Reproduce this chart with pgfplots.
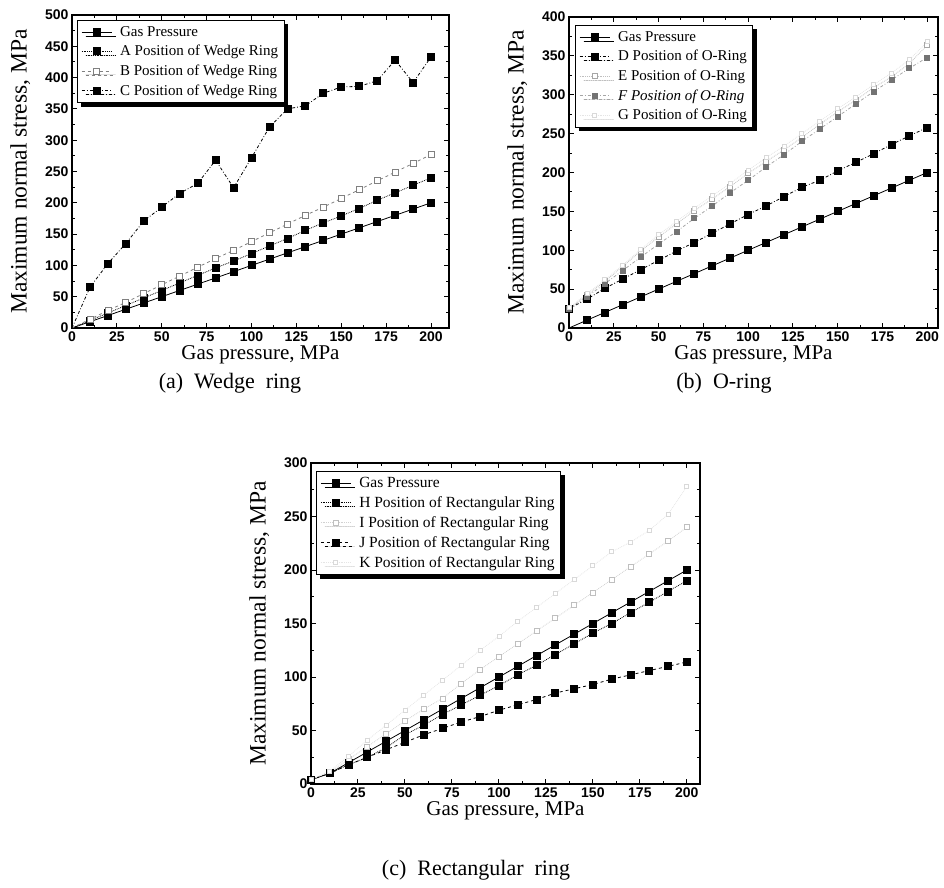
\documentclass[border=0pt]{standalone}
\usepackage{fontspec}
\setmainfont{Liberation Serif}
\newfontfamily\ticksans{Liberation Sans}
\usepackage{pgfplots}
\usepackage{pgfplotstable}
\pgfplotsset{compat=1.18}
\usetikzlibrary{shadows}

% wedge ring: x, gas, A, B, C
\pgfplotstableread{
x   gas  A    B    C
0   0    0    0    0
10  10   12   14   65
20  20   24   28   103
30  30   36   41   135
40  40   48   55   171
50  50   60   69   193
60  60   72   83   215
70  70   84   97   231
80  80   96   111  268
90  90   107  124  224
100 100  119  138  272
110 110  131  152  321
120 120  143  166  350
130 130  156  180  355
140 140  168  193  375
150 150  179  207  385
160 160  191  221  386
170 170  204  235  395
180 180  216  249  428
190 190  228  263  392
200 200  240  277  433
}\wedgedata

% O-ring: x, gas, D, E, F, G
\pgfplotstableread{
x   gas  D    E    F    G
0   0    25   25   25   26
10  10   37   42   40   44
20  20   51   60   57   62
30  30   63   79   74   81
40  40   75   99   91   101
50  50   87   117  108  120
60  60   99   134  124  137
70  70   110  151  141  154
80  80   122  166  157  170
90  90   134  182  174  186
100 100  146  199  190  203
110 110  157  214  207  219
120 120  169  229  223  234
130 130  181  245  240  250
140 140  190  262  256  266
150 150  202  278  272  282
160 160  213  293  288  297
170 170  224  309  304  313
180 180  236  323  319  328
190 190  247  340  334  345
200 200  258  364  348  368
}\oringdata

% rectangular ring: x, gas, H, I, J, K
\pgfplotstableread{
x   gas  H    I    J    K
0   4    4    4    4    4
10  10   10   11   10   12
20  20   18   23   18   26
30  30   25   35   25   41
40  40   34   47   32   55
50  50   46   59   39   69
60  60   55   70   46   83
70  70   65   80   52   97
80  80   74   94   58   111
90  90   83   107  63   125
100 100  92   119  69   138
110 110  102  131  74   152
120 120  111  143  79   165
130 130  121  155  85   178
140 140  131  167  89   191
150 150  141  179  93   204
160 160  150  191  98   217
170 170  160  203  102  226
180 180  170  215  106  237
190 190  180  227  110  252
200 200  190  240  114  278
}\rectdata

\pgfplotsset{
  ringaxis/.style={
    scale only axis,
    anchor=south west,
    xmin=0, xtick={0,25,...,200},
    ymin=0,
    minor x tick num=1, minor y tick num=1,
    axis line style={line width=1.6pt},
    major tick length=5pt, minor tick length=3pt,
    every tick/.style={line width=1pt,black},
    tick align=inside,
    ticklabel style={font=\ticksans\bfseries\fontsize{14}{14}\selectfont},
    /pgf/number format/assume math mode=true,
    xlabel style={font=\fontsize{21}{24}\selectfont, yshift=3pt},
    ylabel style={font=\fontsize{23.5}{26}\selectfont, yshift=8pt},
    xlabel={Gas pressure, MPa},
    ylabel={Maximum normal stress, MPa},
    legend style={font=\fontsize{15}{17}\selectfont, draw=black, line width=0.8pt,
      fill=white, drop shadow={shadow xshift=4pt, shadow yshift=-4pt, fill=black, opacity=1},
      anchor=north west, row sep=3.5pt, inner sep=4pt,
      /tikz/every odd column/.append style={column sep=6pt}},
    legend cell align=left,
    legend image code/.code={%
      \draw[##1, mark indices={2}] plot coordinates {(0pt,0pt) (15pt,0pt) (30pt,0pt)};},
    every axis plot/.append style={line width=0.8pt, mark=square*, mark size=3.5pt},
  },
  gasstyle/.style={black, solid, mark options={solid, fill=black}},
}

\begin{document}
\begin{tikzpicture}[x=1pt,y=1pt]
\useasboundingbox (0,0) rectangle (944,887);

% (a) wedge ring
\begin{axis}[ringaxis, at={(72pt,559pt)}, width=377, height=313,
  xmax=210, ymax=500, ytick={0,50,...,500},
  every axis plot/.append style={mark indices={2,...,21}},
  legend style={at={(0.013,0.984)}}]
  \addplot[gasstyle] table[x=x,y=gas] {\wedgedata};
  \addlegendentry{Gas Pressure}
  \addplot[black, densely dotted, mark options={solid, fill=black}] table[x=x,y=A] {\wedgedata};
  \addlegendentry{A Position of Wedge Ring}
  \addplot[gray, dashed, mark=square*, mark size=3pt, mark options={solid, draw=gray, fill=white}] table[x=x,y=B] {\wedgedata};
  \addlegendentry{B Position of Wedge Ring}
  \addplot[black, dash dot, mark options={solid, fill=black}] table[x=x,y=C] {\wedgedata};
  \addlegendentry{C Position of Wedge Ring}
\end{axis}

% (b) O-ring
\begin{axis}[ringaxis, at={(569pt,559pt)}, width=369, height=311,
  xmax=206, ymax=400, ytick={0,50,...,400},
  legend style={at={(0.016,0.974)}}]
  \addplot[gasstyle, mark indices={2,...,21}] table[x=x,y=gas] {\oringdata};
  \addlegendentry{Gas Pressure}
  \addplot[black, dash dot, mark options={solid, fill=black}] table[x=x,y=D] {\oringdata};
  \addlegendentry{D Position of O-Ring}
  \addplot[black!25, densely dotted, mark=square*, mark size=2.5pt, mark options={solid, draw=black!35, fill=white}] table[x=x,y=E] {\oringdata};
  \addlegendentry{E Position of O-Ring}
  \addplot[black!35, dash dot, mark size=2.5pt, mark options={solid, draw=black!55, fill=black!55}] table[x=x,y=F] {\oringdata};
  \addlegendentry{\textit{F Position of O-Ring}}
  \addplot[black!10, densely dotted, mark size=2pt, mark options={solid, draw=black!15, fill=white}] table[x=x,y=G] {\oringdata};
  \addlegendentry{G Position of O-Ring}
\end{axis}

% (c) rectangular ring
\begin{axis}[ringaxis, at={(311pt,103pt)}, width=389, height=321,
  xmax=207, ymax=300, ytick={0,50,...,300},
  legend style={at={(0.013,0.975)}, font=\fontsize{15.5}{17}\selectfont}]
  \addplot[gasstyle] table[x=x,y=gas] {\rectdata};
  \addlegendentry{Gas Pressure}
  \addplot[black, densely dotted, mark options={solid, fill=black}] table[x=x,y=H] {\rectdata};
  \addlegendentry{H Position of Rectangular Ring}
  \addplot[black!18, densely dotted, mark=square*, mark size=2.5pt, mark options={solid, draw=black!25, fill=white}] table[x=x,y=I] {\rectdata};
  \addlegendentry{I Position of Rectangular Ring}
  \addplot[black, dashed, mark options={solid, fill=black}] table[x=x,y=J] {\rectdata};
  \addlegendentry{J Position of Rectangular Ring}
  \addplot[black!10, densely dotted, mark size=2pt, mark options={solid, draw=black!15, fill=white}] table[x=x,y=K] {\rectdata};
  \addlegendentry{K Position of Rectangular Ring}
\end{axis}

\node[font=\fontsize{22}{26}\selectfont] at (230,504) {(a)~~Wedge~~ring};
\node[font=\fontsize{22}{26}\selectfont] at (724,504) {(b)~~O-ring};
\node[font=\fontsize{22}{26}\selectfont] at (476,17) {(c)~~Rectangular~~ring};
\end{tikzpicture}
\end{document}
